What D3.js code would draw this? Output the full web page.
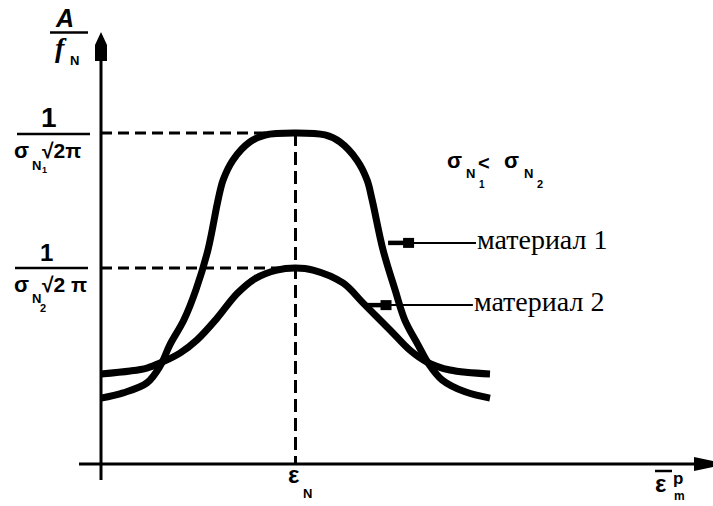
<!DOCTYPE html>
<html>
<head>
<meta charset="utf-8">
<script src="https://cdn.jsdelivr.net/npm/d3@7"></script>
<style>
  html, body { margin: 0; padding: 0; background: #fff; }
  svg { display: block; }
  .sym { font-family: "Liberation Sans", Arial, sans-serif; font-weight: bold; fill: #000; }
  .ser { font-family: "Liberation Serif", "Times New Roman", serif; fill: #000; }
</style>
</head>
<body>
<svg id="chart" width="713" height="506"></svg>
<script>
// Relative amplitude A/f_N versus strain for two materials (strain in arbitrary units, mean = 5)
const strainMat1 = [0, 0.57, 1.18, 1.52, 1.77, 2.13, 2.44, 2.75, 3.01, 3.14, 3.39, 3.83, 4.22, 5.0,
                    5.76, 6.14, 6.58, 6.84, 6.97, 7.25, 7.56, 7.81, 8.15, 8.41, 8.77, 9.36, 10.0];
const ampMat1    = [0.199, 0.215, 0.245, 0.296, 0.360, 0.435, 0.526, 0.647, 0.798, 0.858, 0.918, 0.973, 0.994, 1.0,
                    0.994, 0.973, 0.918, 0.858, 0.798, 0.647, 0.526, 0.435, 0.360, 0.305, 0.254, 0.218, 0.199];

const strainMat2 = [0, 0.75, 1.18, 1.52, 2.03, 2.47, 2.98, 3.50, 3.96, 4.52, 5.0,
                    5.45, 6.22, 6.74, 7.43, 7.94, 8.38, 8.97, 10.0];
const ampMat2    = [0.272, 0.281, 0.290, 0.305, 0.335, 0.375, 0.440, 0.515, 0.560, 0.586, 0.592,
                    0.586, 0.547, 0.486, 0.405, 0.344, 0.308, 0.284, 0.272];

// Peak levels 1/(σ√2π) and the mean strain ε_N
const peakLevels = [1.0, 0.592];
const meanStrain = 5.0;

// Leader lines: [strain at curve, amplitude, strain at label]
const leaderStart = [7.38, 6.80];
const leaderAmp   = [0.668, 0.480];
const leaderEnd   = [9.64, 9.56];
const seriesNames = ["материал 1", "материал 2"];

const svg = d3.select("#chart");
const x = d3.scaleLinear().domain([0, 10]).range([101, 490]);
const y = d3.scaleLinear().domain([0, 1]).range([464, 133]);

// ---- guide lines (dashed) ----
peakLevels.forEach(v => {
  svg.append("line")
    .attr("x1", x(0)).attr("x2", x(meanStrain))
    .attr("y1", y(v)).attr("y2", y(v))
    .attr("stroke", "#000").attr("stroke-width", 3)
    .attr("stroke-dasharray", "11,6");
});
svg.append("line")
  .attr("x1", x(meanStrain)).attr("x2", x(meanStrain))
  .attr("y1", y(peakLevels[0])).attr("y2", y(0))
  .attr("stroke", "#000").attr("stroke-width", 3)
  .attr("stroke-dasharray", "13,6");

// ---- axes ----
svg.append("line").attr("x1", x(0)).attr("x2", x(0)).attr("y1", 480).attr("y2", 50)
  .attr("stroke", "#000").attr("stroke-width", 3);
svg.append("path")
  .attr("d", `M${x(0)},32 L${x(0) + 6},45 L${x(0) + 6},61 L${x(0) - 6},61 L${x(0) - 6},45 Z`)
  .attr("fill", "#000");
svg.append("line").attr("x1", 79).attr("x2", 700).attr("y1", y(0)).attr("y2", y(0))
  .attr("stroke", "#000").attr("stroke-width", 3);
svg.append("path")
  .attr("d", `M694,${y(0) - 7} L713,${y(0) - 3} L713,${y(0) + 3} L694,${y(0) + 7} Z`)
  .attr("fill", "#000");

// ---- curves ----
const line = d3.line()
  .x(d => x(d[0])).y(d => y(d[1]))
  .curve(d3.curveCatmullRom.alpha(0.5));

[[strainMat1, ampMat1], [strainMat2, ampMat2]].forEach(([xs, ys]) => {
  svg.append("path")
    .datum(xs.map((v, i) => [v, ys[i]]))
    .attr("d", line)
    .attr("fill", "none")
    .attr("stroke", "#000")
    .attr("stroke-width", 7)
    .attr("stroke-linecap", "butt")
    .attr("stroke-linejoin", "round");
});

// ---- leaders with arrow blocks and labels ----
seriesNames.forEach((name, i) => {
  const x0 = x(leaderStart[i]), yy = y(leaderAmp[i]), x1 = x(leaderEnd[i]);
  svg.append("line").attr("x1", x0).attr("x2", x0 + 25).attr("y1", yy).attr("y2", yy)
    .attr("stroke", "#000").attr("stroke-width", 4.5);
  svg.append("rect").attr("x", x0 + 15).attr("y", yy - 5).attr("width", 11).attr("height", 10)
    .attr("fill", "#000");
  svg.append("line").attr("x1", x0 + 25).attr("x2", x1).attr("y1", yy).attr("y2", yy)
    .attr("stroke", "#000").attr("stroke-width", 2);
  svg.append("text").attr("class", "ser")
    .attr("x", x1 + 1).attr("y", yy + 6)
    .attr("font-size", 28)
    .text(name);
});

// ---- text helpers ----
function t(str, px, py, size, cls, extra) {
  const el = svg.append("text").attr("class", cls || "sym")
    .attr("x", px).attr("y", py).attr("font-size", size).text(str);
  if (extra) extra(el);
  return el;
}
const italic = el => el.attr("font-style", "italic");

// y-axis title A / f_N
t("A", 56, 27, 25, "sym", italic);
svg.append("line").attr("x1", 50).attr("x2", 88).attr("y1", 32.5).attr("y2", 32.5)
  .attr("stroke", "#000").attr("stroke-width", 2.5);
t("f", 55, 57, 28, "ser", el => el.attr("font-style", "italic").attr("font-weight", "bold"));
t("N", 70, 65, 13);

// tick label 1/(σN1 √2π)
const yA = y(peakLevels[0]);
t("1", 41, yA - 6, 28);
svg.append("line").attr("x1", 17).attr("x2", 90).attr("y1", yA + 1).attr("y2", yA + 1)
  .attr("stroke", "#000").attr("stroke-width", 2.5);
t("σ", 14, yA + 25, 22);
t("N", 32, yA + 37, 13);
t("1", 42, yA + 40, 9);
t("√2π", 42, yA + 25, 21);

// tick label 1/(σN2 √2 π)
const yB = y(peakLevels[1]);
t("1", 40, yB - 7, 24);
svg.append("line").attr("x1", 15).attr("x2", 88).attr("y1", yB).attr("y2", yB)
  .attr("stroke", "#000").attr("stroke-width", 2.5);
t("σ", 14, yB + 24, 22);
t("N", 32, yB + 35, 13);
t("2", 40, yB + 44, 11);
t("√2 π", 42, yB + 24, 21);

// relation σN1 < σN2
t("σ", 447, 168, 22);
t("N", 466, 178, 13);
t("1", 479, 188, 10);
t("<", 478, 170, 20);
t("σ", 504, 168, 22);
t("N", 524, 178, 13);
t("2", 537, 188, 11);

// x labels
t("ε", 288, 483, 24);
t("N", 303, 498, 13);
svg.append("line").attr("x1", 655).attr("x2", 672).attr("y1", 471).attr("y2", 471)
  .attr("stroke", "#000").attr("stroke-width", 2.5);
t("ε", 655, 492, 24);
t("p", 673, 484, 17);
t("m", 674, 500, 12);
</script>
</body>
</html>
